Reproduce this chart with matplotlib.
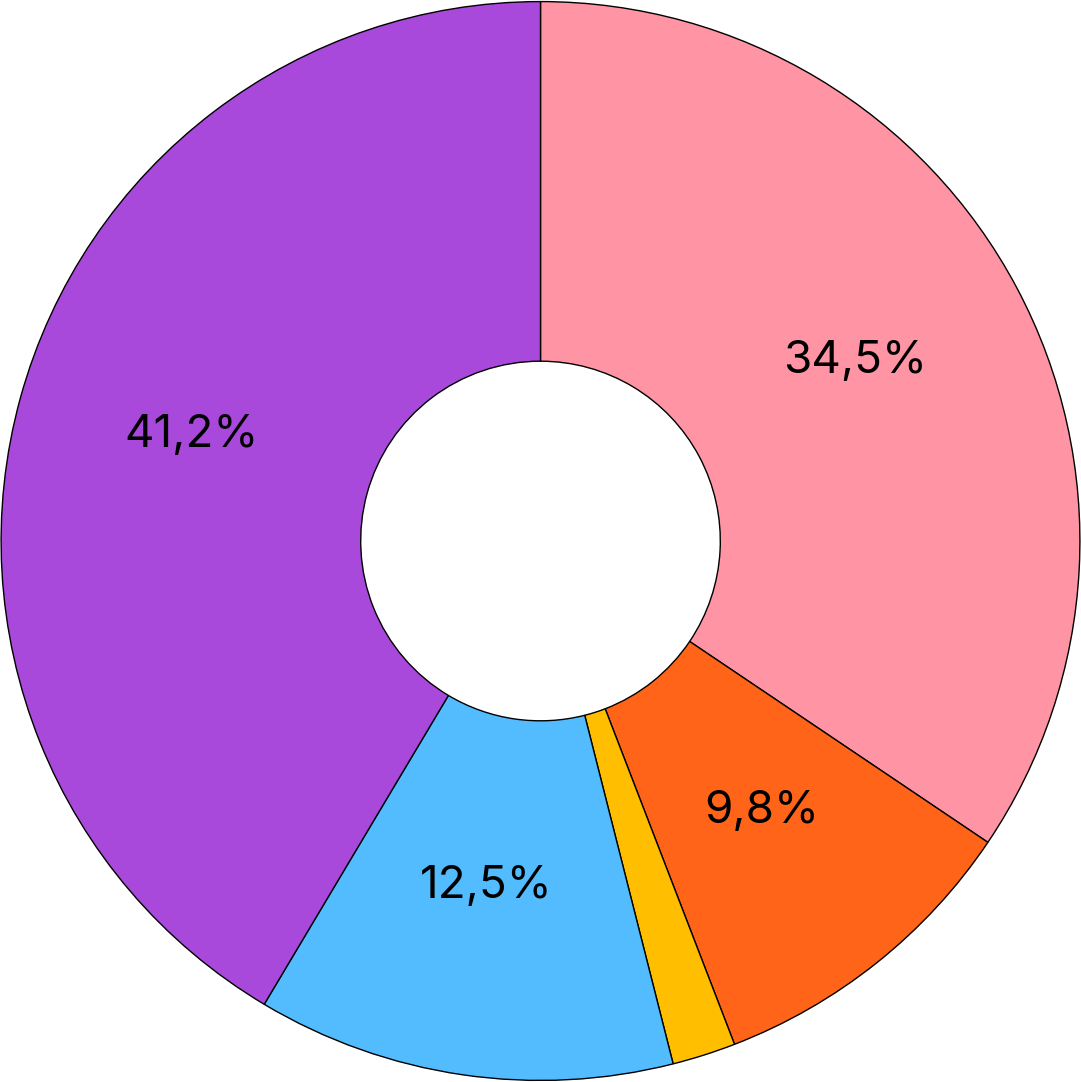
import numpy as np
import matplotlib.pyplot as plt

# slice sizes as drawn, clockwise from 12 o'clock
values = [34.4, 9.7, 1.9, 12.5, 41.4]
labels = ["34,5%", "9,8%", "", "12,5%", "41,2%"]
colors = ["#FF94A4", "#FF6418", "#FFBE00", "#52BCFF", "#A849DC"]

plt.rcParams["font.family"] = ["Inter", "DejaVu Sans"]

fig = plt.figure(figsize=(10.81, 10.82), dpi=100)
ax = fig.add_axes([0, 0, 1, 1])

wedges, texts = ax.pie(
    values,
    colors=colors,
    startangle=90,
    counterclock=False,
    radius=1.0,
    wedgeprops=dict(width=2 / 3, edgecolor="black", linewidth=1.0),
)

# labels in the middle of the ring
for w, lab in zip(wedges, labels):
    if not lab:
        continue
    ang = np.deg2rad((w.theta1 + w.theta2) / 2)
    r = 2 / 3
    ax.text(r * np.cos(ang) - 0.005, r * np.sin(ang) + 0.02, lab, ha="center", va="center",
            fontsize=33, color="black")

ax.set_xlim(-1.002, 1.002)
ax.set_ylim(-1.002, 1.002)
ax.set_aspect("equal")
ax.axis("off")

fig.savefig("out.png", dpi=100)
